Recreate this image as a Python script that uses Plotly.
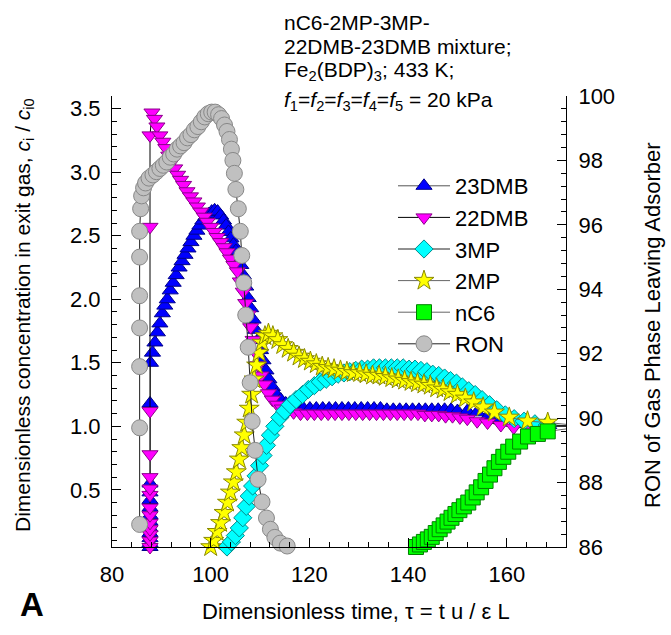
import plotly.graph_objects as go

# ---------------- data ----------------
tau_23dmb = [87.7, 87.7, 87.7, 87.7, 87.7, 87.7, 87.7, 87.7, 87.7, 87.7, 87.7, 87.7,
             87.8, 88.2, 88.7, 89.2, 89.7, 90.2, 90.7, 91.2, 91.8, 92.4, 93.0, 93.6, 94.2,
             94.8, 95.4, 96.0, 96.6, 97.2, 97.8, 98.4, 99.0, 99.6, 100.2, 100.8, 101.4,
             102.0, 102.6, 103.1, 103.6, 104.1, 104.6, 105.1, 105.6, 106.1, 106.6, 107.1,
             107.6, 108.1, 108.6, 109.1, 109.6, 110.1, 110.6, 111.2, 111.8, 112.5, 113.3,
             114.2, 115.2, 116.3, 117.5, 118.8, 120.1, 121.4, 122.7, 124.0, 125.3, 126.6,
             127.9, 129.2, 130.5, 131.8, 133.1, 134.4, 135.7, 137.0, 138.3, 139.6, 140.9,
             142.2, 143.5, 144.8, 146.1, 147.4, 148.7, 150.0, 152.0, 154.0, 156.4, 158.8,
             162.0, 165.5, 168.5]
c_23dmb = [0.05, 0.08, 0.12, 0.16, 0.20, 0.25, 0.30, 0.36, 0.42, 0.48, 0.55, 1.18,
           1.50, 1.58, 1.66, 1.74, 1.81, 1.89, 1.95, 2.00, 2.07, 2.13, 2.19, 2.25, 2.30,
           2.35, 2.40, 2.45, 2.50, 2.54, 2.58, 2.62, 2.65, 2.67, 2.69, 2.70, 2.69,
           2.66, 2.62, 2.58, 2.53, 2.48, 2.43, 2.38, 2.33, 2.27, 2.19, 2.10,
           2.01, 1.93, 1.84, 1.76, 1.68, 1.60, 1.52, 1.44, 1.37, 1.31, 1.25,
           1.21, 1.18, 1.16, 1.15, 1.14, 1.14, 1.14, 1.14, 1.14, 1.14, 1.14,
           1.14, 1.14, 1.14, 1.14, 1.14, 1.14, 1.13, 1.13, 1.13, 1.13, 1.13,
           1.13, 1.13, 1.13, 1.13, 1.13, 1.13, 1.12, 1.12, 1.11, 1.09, 1.06,
           1.04, 1.02, 1.01]

tau_22dmb = [87.7, 87.7, 87.7, 87.7, 87.7, 87.7, 87.7, 87.7, 87.7, 87.7, 87.7, 87.7,
             87.7, 87.7, 88.1, 88.6, 89.1, 89.7, 90.3, 90.9, 91.5, 92.1, 92.7, 93.3, 93.9,
             94.5, 95.2, 95.9, 96.6, 97.3, 98.0, 98.7, 99.3, 100.0, 100.7, 101.3, 102.0,
             102.7, 103.3, 104.0, 104.7, 105.4, 106.0, 106.6, 107.1, 107.6, 108.1, 108.6,
             109.1, 109.6, 110.2, 110.9, 111.7, 112.5, 113.5, 114.5, 115.6, 116.8, 118.2,
             119.6, 121.0, 122.4, 123.8, 125.2, 126.6, 128.0, 129.4, 130.8, 132.2, 133.6,
             135.0, 136.4, 137.8, 139.2, 140.6, 142.0, 143.4, 144.8, 146.2, 147.6, 149.0,
             150.5, 152.0, 154.0, 156.1, 158.8, 161.4, 164.5, 168.0]
c_22dmb = [0.05, 0.10, 0.15, 0.19, 0.24, 0.30, 0.36, 0.46, 0.51, 0.60, 0.78, 1.12,
           2.57, 3.29, 3.47, 3.42, 3.36, 3.29, 3.24, 3.19, 3.13, 3.08, 3.03, 2.98, 2.94,
           2.90, 2.85, 2.81, 2.77, 2.73, 2.69, 2.65, 2.61, 2.57, 2.53, 2.49, 2.45,
           2.41, 2.37, 2.32, 2.27, 2.22, 2.14, 2.06, 1.97, 1.88, 1.78, 1.68,
           1.58, 1.48, 1.40, 1.33, 1.26, 1.21, 1.17, 1.14, 1.12, 1.11, 1.10,
           1.10, 1.10, 1.10, 1.10, 1.10, 1.10, 1.10, 1.10, 1.10, 1.10, 1.10,
           1.10, 1.10, 1.10, 1.10, 1.10, 1.10, 1.09, 1.09, 1.09, 1.08, 1.08,
           1.07, 1.06, 1.04, 1.03, 1.01, 0.99, 0.99, 1.00]

tau_3mp = [103.3, 104.2, 105.0, 105.8, 106.5, 107.2, 107.8, 108.5, 109.2, 109.9, 110.6,
           111.3, 112.1, 113.0, 114.0, 115.0, 116.1, 117.3, 118.6, 119.8, 121.0, 122.2,
           123.4, 124.6, 125.8, 127.0, 128.2, 129.4, 130.6, 131.8, 133.0, 134.2, 135.4,
           136.6, 137.8, 139.0, 140.2, 141.4, 142.6, 143.8, 145.0, 146.2, 147.4, 148.6,
           149.8, 151.0, 152.3, 153.6, 155.0, 156.5, 158.0, 159.7, 161.5, 163.5, 165.7,
           168.2]
c_3mp = [0.05, 0.09, 0.14, 0.20, 0.28, 0.37, 0.45, 0.53, 0.61, 0.69, 0.77,
         0.85, 0.93, 1.00, 1.07, 1.12, 1.17, 1.21, 1.25, 1.29, 1.32, 1.35,
         1.37, 1.39, 1.41, 1.42, 1.43, 1.44, 1.45, 1.45, 1.46, 1.46, 1.46,
         1.46, 1.46, 1.46, 1.45, 1.45, 1.44, 1.43, 1.41, 1.40, 1.38, 1.36,
         1.34, 1.31, 1.28, 1.25, 1.21, 1.17, 1.13, 1.09, 1.06, 1.04, 1.02,
         1.01]

tau_2mp = [100.0, 100.6, 101.3, 102.0, 102.7, 103.4, 104.0, 104.6, 105.2, 105.8, 106.3,
           106.8, 107.3, 107.8, 108.3, 108.8, 109.3, 109.8, 110.4, 111.0, 111.7, 112.6,
           113.6, 114.6, 115.7, 116.8, 117.9, 119.0, 120.2, 121.4, 122.6, 123.8, 125.0,
           126.3, 127.6, 128.9, 130.2, 131.5, 132.8, 134.1, 135.4, 136.7, 138.0, 139.3,
           140.6, 141.9, 143.2, 144.5, 145.8, 147.1, 148.5, 150.0, 151.6, 153.3, 155.2,
           157.5, 160.5, 164.2, 168.3]
c_2mp = [0.05, 0.10, 0.17, 0.24, 0.32, 0.40, 0.48, 0.56, 0.64, 0.74, 0.83,
         0.93, 1.03, 1.14, 1.25, 1.37, 1.48, 1.58, 1.66, 1.71, 1.73, 1.71,
         1.68, 1.64, 1.61, 1.58, 1.55, 1.53, 1.51, 1.49, 1.47, 1.46, 1.45,
         1.44, 1.43, 1.42, 1.42, 1.41, 1.40, 1.40, 1.39, 1.38, 1.37, 1.36,
         1.35, 1.34, 1.33, 1.32, 1.30, 1.29, 1.27, 1.25, 1.22, 1.19, 1.15,
         1.11, 1.07, 1.04, 1.03]

tau_nc6 = [141.6, 142.4, 143.2, 144.0, 144.8, 145.6, 146.4, 147.2, 148.0, 148.8, 149.6,
           150.4, 151.3, 152.2, 153.1, 153.9, 154.8, 155.7, 156.6, 157.5, 158.4, 159.3,
           160.3, 161.3, 162.7, 164.3, 166.3, 168.3]
c_nc6 = [0.05, 0.07, 0.09, 0.11, 0.13, 0.16, 0.19, 0.22, 0.25, 0.28, 0.31,
         0.34, 0.37, 0.40, 0.44, 0.48, 0.52, 0.57, 0.62, 0.67, 0.72, 0.76,
         0.80, 0.84, 0.88, 0.92, 0.94, 0.96]

tau_ron = [85.6, 85.6, 85.6, 85.6, 85.6, 85.6, 85.6, 85.8, 86.0, 86.4, 86.8, 87.5,
           88.3, 89.0, 89.7, 90.4, 91.1, 91.8, 92.5, 93.2, 93.9, 94.6, 95.3, 96.0,
           96.7, 97.4, 98.1, 98.8, 99.5, 100.2, 100.9, 101.6, 102.2, 102.8, 103.3,
           103.8, 104.2, 104.5, 104.8, 105.1, 105.6, 106.0, 106.3, 106.7, 107.1,
           107.6, 108.0, 108.4, 109.0, 109.6, 110.4, 111.3, 112.1, 113.0, 114.1, 115.5]
ron = [86.7, 89.7, 91.6, 92.8, 93.8, 95.0, 95.8, 96.5, 96.9, 97.15, 97.3, 97.45,
       97.55, 97.65, 97.75, 97.85, 97.95, 98.1, 98.2, 98.35, 98.45, 98.55, 98.7, 98.8,
       98.95, 99.05, 99.2, 99.35, 99.45, 99.5, 99.5, 99.42, 99.3, 99.1, 98.9,
       98.65, 98.35, 98.0, 97.6, 97.1, 96.5, 95.8, 95.05, 94.2, 93.2,
       92.2, 91.1, 89.9, 89.0, 88.1, 87.4, 86.9, 86.55, 86.3, 86.12, 86.03]

# value where every exit-gas curve meets the right-hand axis (tail beyond tau=172)
tail_tau = 176.0
tail_c = 1.0

x_ticks = [80, 100, 120, 140, 160]
y_ticks = [0.5, 1.0, 1.5, 2.0, 2.5, 3.0, 3.5]
ron_ticks = [86, 88, 90, 92, 94, 96, 98, 100]

# ---------------- figure ----------------
FONT = "Arial, Liberation Sans, sans-serif"
L, R, T, B = 112, 105, 96, 88
W, H = 671, 635
PW, PH = W - L - R, H - T - B


def px(xp):
    return (xp - L) / PW


def py(yp):
    return (H - B - yp) / PH


fig = go.Figure()

series = [
    ("23DMB", tau_23dmb, c_23dmb, "triangle-up", "#0000FF", "#00008B", 14, "#555555", "y"),
    ("22DMB", tau_22dmb, c_22dmb, "triangle-down", "#FF00FF", "#8B008B", 14, "#000000", "y"),
    ("3MP", tau_3mp, c_3mp, "diamond", "#00FFFF", "#008B8B", 14, "#222222", "y"),
    ("2MP", tau_2mp, c_2mp, "star", "#FFFF00", "#8B8B00", 15, "#666666", "y"),
    ("nC6", tau_nc6, c_nc6, "square", "#00FF00", "#008000", 15, "#666666", "y"),
    ("RON", tau_ron, ron, "circle", "#C0C0C0", "#888888", 16, "#222222", "y2"),
]

for name, xs, ys, sym, fill, edge, size, lc, ax in series:
    if ax == "y":
        fig.add_trace(go.Scatter(x=[xs[-1], tail_tau], y=[ys[-1], tail_c], mode="lines",
                                 line=dict(color=lc, width=1), showlegend=False,
                                 hoverinfo="skip", yaxis=ax))
    fig.add_trace(go.Scatter(
        x=xs, y=ys, name=name, mode="lines+markers", yaxis=ax, cliponaxis=False,
        line=dict(color=lc, width=1),
        marker=dict(symbol=sym, size=size, color=fill, line=dict(color=edge, width=1)),
    ))

axis_common = dict(
    showgrid=False, zeroline=False, showline=True, linecolor="black", linewidth=1,
    ticks="inside", ticklen=9, tickcolor="black", tickwidth=1,
    tickfont=dict(family=FONT, size=22, color="black"),
)

fig.update_layout(
    width=W, height=H,
    margin=dict(l=L, r=R, t=T, b=B),
    paper_bgcolor="white", plot_bgcolor="white",
    font=dict(family=FONT, color="black"),
    xaxis=dict(range=[80, 172], tickvals=x_ticks, ticklabelstandoff=8,
               minor=dict(ticks="inside", ticklen=5, dtick=4, tick0=80, tickcolor="black"),
               **axis_common),
    yaxis=dict(range=[0.05, 3.6], tickvals=y_ticks, ticktext=[f"{v:.1f}" for v in y_ticks],
               ticklabelstandoff=6,
               minor=dict(ticks="inside", ticklen=5, dtick=0.1, tick0=0.0, tickcolor="black"),
               **axis_common),
    yaxis2=dict(range=[86, 100], overlaying="y", side="right", tickvals=ron_ticks,
                ticklabelstandoff=7,
                minor=dict(ticks="inside", ticklen=5, dtick=0.4, tick0=86, tickcolor="black"),
                **axis_common),
    legend=dict(x=px(393), y=py(165), xanchor="left", yanchor="top",
                bgcolor="rgba(0,0,0,0)", font=dict(family=FONT, size=22, color="black"),
                tracegroupgap=0, itemwidth=52),
    showlegend=True,
)

ann = [
    dict(text="nC6-2MP-3MP-", x=px(282), y=py(22)),
    dict(text="22DMB-23DMB mixture;", x=px(282), y=py(46)),
    dict(text="Fe<sub>2</sub>(BDP)<sub>3</sub>; 433 K;", x=px(282), y=py(71)),
    dict(text="<i>f</i><sub>1</sub>=<i>f</i><sub>2</sub>=<i>f</i><sub>3</sub>=<i>f</i><sub>4</sub>=<i>f</i><sub>5</sub> = 20 kPa",
         x=px(282), y=py(101)),
]
for a in ann:
    fig.add_annotation(xref="paper", yref="paper", xanchor="left", yanchor="middle",
                       showarrow=False, font=dict(family=FONT, size=21, color="black"), **a)

fig.add_annotation(xref="paper", yref="paper", x=px(356), y=py(611), xanchor="center",
                   yanchor="middle", showarrow=False,
                   text="Dimensionless time, τ = t u / ε L",
                   font=dict(family=FONT, size=22, color="black"))
fig.add_annotation(xref="paper", yref="paper", x=px(24), y=py(315), xanchor="center",
                   yanchor="middle", showarrow=False, textangle=-90,
                   text="Dimensionless concentration in exit gas, <i>c</i><sub>i</sub> / <i>c</i><sub>i0</sub>",
                   font=dict(family=FONT, size=21, color="black"))
fig.add_annotation(xref="paper", yref="paper", x=px(652), y=py(325), xanchor="center",
                   yanchor="middle", showarrow=False, textangle=-90,
                   text="RON of Gas Phase Leaving Adsorber",
                   font=dict(family=FONT, size=22, color="black"))
fig.add_annotation(xref="paper", yref="paper", x=px(32), y=py(604), xanchor="center",
                   yanchor="middle", showarrow=False, text="<b>A</b>",
                   font=dict(family=FONT, size=33, color="black"))

fig.write_html("out.html")
